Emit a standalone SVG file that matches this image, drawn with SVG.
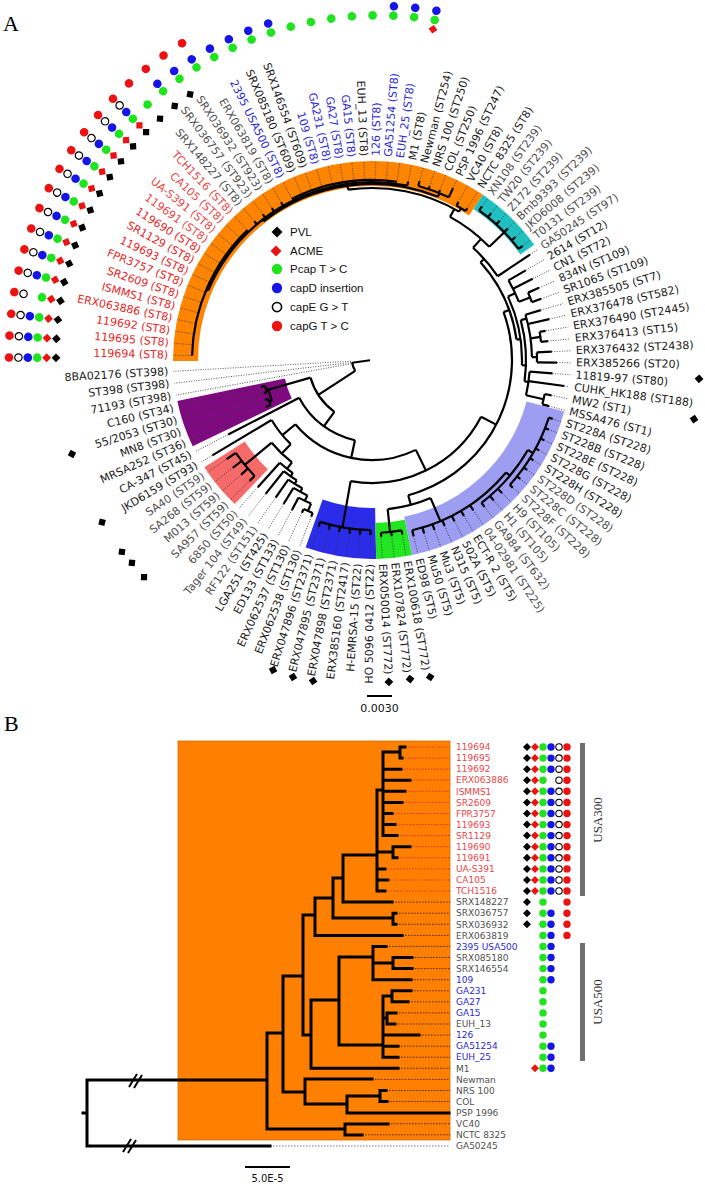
<svg xmlns="http://www.w3.org/2000/svg" width="705" height="1184" viewBox="0 0 705 1184">
<defs>
<style>
.t{fill:none;stroke:#000;stroke-width:2.2}
.d{stroke:#333;stroke-width:.8;stroke-dasharray:1 1.5}
.bd{fill:none}
.la{font-family:"DejaVu Sans",sans-serif;font-size:11px;dominant-baseline:central}
.L{text-anchor:end}
.lb{font-family:"DejaVu Sans",sans-serif;font-size:9px}
.lg{font-family:"Liberation Sans",Arial,sans-serif;font-size:11.5px;fill:#111}
.r{fill:#e62626}.r2{fill:#ec4545}.b{fill:#2a2ad2}.k{fill:#1a1a1a}.g{fill:#505050}
.bt{fill:none;stroke:#000;stroke-width:3;stroke-linecap:square}
.bdr{stroke:#e03030;stroke-width:1;stroke-dasharray:1.5 1.5}
.bdk{stroke:#4a2200;stroke-width:1;stroke-dasharray:1.5 1.5}
.pl{font-family:"Liberation Serif",serif;font-size:22px;fill:#000}
</style>
<path id="pvl" d="M0-4.4L4.4 0 0 4.4-4.4 0z" fill="#000"/>
<path id="acme" d="M0-4.4L4.4 0 0 4.4-4.4 0z" fill="#ee1111"/>
<circle id="pcap" r="4.3" fill="#1ee41e"/>
<circle id="capd" r="4.3" fill="#1515e6"/>
<circle id="cape" r="3.7" fill="#fff" stroke="#000" stroke-width="1.2"/>
<circle id="capg" r="4.3" fill="#ee1111"/>
<path id="bpvl" d="M0-4L4 0 0 4-4 0z" fill="#000"/>
<path id="bacme" d="M0-4L4 0 0 4-4 0z" fill="#ee1111"/>
<circle id="bpcap" r="3.7" fill="#1ee41e"/>
<circle id="bcapd" r="3.7" fill="#1515e6"/>
<circle id="bcape" r="3.2" fill="#fff" stroke="#000" stroke-width="1.1"/>
<circle id="bcapg" r="3.7" fill="#ee1111"/>
</defs>
<rect width="705" height="1184" fill="#fff"/>
<text class="pl" x="3" y="31">A</text>
<text class="pl" x="4" y="731">B</text>

<g id="panelA" transform="translate(372,360)">
<g id="bands">
<circle class="bd" r="186.5" stroke="#ff8400" stroke-width="25" pathLength="360" stroke-dasharray="124.2 400" transform="rotate(179.7)"/>
<circle class="bd" r="190.5" stroke="#20c0c0" stroke-width="17" pathLength="360" stroke-dasharray="20.7 400" transform="rotate(303.9)"/>
<circle class="bd" r="144" stroke="#7f0a80" stroke-width="110" pathLength="360" stroke-dasharray="13.8 400" transform="rotate(514.3)"/>
<circle class="bd" r="175" stroke="#f76a6a" stroke-width="48" pathLength="360" stroke-dasharray="13.8 400" transform="rotate(493.6)"/>
<circle class="bd" r="173.5" stroke="#2b2bea" stroke-width="51" pathLength="360" stroke-dasharray="20.7 400" transform="rotate(448.8)"/>
<circle class="bd" r="181" stroke="#22e622" stroke-width="36" pathLength="360" stroke-dasharray="10.4 400" transform="rotate(438.4)"/>
<circle class="bd" r="179.5" stroke="#9d9df2" stroke-width="39" pathLength="360" stroke-dasharray="63.4 400" transform="rotate(375)"/>
</g>
<g id="connectorsA">
<g id="dotsA">
<line class="d" x1="181" x2="199" transform="rotate(181.4)"/>
<line class="d" x1="181" x2="199" transform="rotate(184.85)"/>
<line class="d" x1="181" x2="199" transform="rotate(188.3)"/>
<line class="d" x1="181" x2="199" transform="rotate(191.75)"/>
<line class="d" x1="181" x2="199" transform="rotate(195.2)"/>
<line class="d" x1="181" x2="199" transform="rotate(198.65)"/>
<line class="d" x1="181" x2="199" transform="rotate(202.1)"/>
<line class="d" x1="181" x2="199" transform="rotate(205.55)"/>
<line class="d" x1="181" x2="199" transform="rotate(209)"/>
<line class="d" x1="181" x2="199" transform="rotate(212.45)"/>
<line class="d" x1="181" x2="199" transform="rotate(215.9)"/>
<line class="d" x1="181" x2="199" transform="rotate(219.35)"/>
<line class="d" x1="181" x2="199" transform="rotate(222.8)"/>
<line class="d" x1="181" x2="199" transform="rotate(226.25)"/>
<line class="d" x1="182" x2="199" transform="rotate(229.7)"/>
<line class="d" x1="182" x2="199" transform="rotate(233.15)"/>
<line class="d" x1="182" x2="199" transform="rotate(236.6)"/>
<line class="d" x1="182" x2="199" transform="rotate(240.05)"/>
<line class="d" x1="182" x2="199" transform="rotate(243.5)"/>
<line class="d" x1="182" x2="199" transform="rotate(246.95)"/>
<line class="d" x1="182" x2="199" transform="rotate(250.4)"/>
<line class="d" x1="182" x2="199" transform="rotate(253.85)"/>
<line class="d" x1="182" x2="199" transform="rotate(257.3)"/>
<line class="d" x1="182" x2="199" transform="rotate(260.75)"/>
<line class="d" x1="182" x2="199" transform="rotate(264.2)"/>
<line class="d" x1="182" x2="199" transform="rotate(267.65)"/>
<line class="d" x1="182" x2="199" transform="rotate(271.1)"/>
<line class="d" x1="182" x2="199" transform="rotate(274.55)"/>
<line class="d" x1="182" x2="199" transform="rotate(278)"/>
<line class="d" x1="182" x2="199" transform="rotate(281.45)"/>
<line class="d" x1="185" x2="199" transform="rotate(284.9)"/>
<line class="d" x1="183" x2="199" transform="rotate(288.35)"/>
<line class="d" x1="183" x2="199" transform="rotate(291.8)"/>
<line class="d" x1="190" x2="199" transform="rotate(295.25)"/>
<line class="d" x1="180" x2="199" transform="rotate(298.7)"/>
<line class="d" x1="179" x2="199" transform="rotate(302.15)"/>
<line class="d" x1="189" x2="199" transform="rotate(305.6)"/>
<line class="d" x1="189" x2="199" transform="rotate(309.05)"/>
<line class="d" x1="189" x2="199" transform="rotate(312.5)"/>
<line class="d" x1="189" x2="199" transform="rotate(315.95)"/>
<line class="d" x1="189" x2="199" transform="rotate(319.4)"/>
<line class="d" x1="189" x2="199" transform="rotate(322.85)"/>
<line class="d" x1="190" x2="199" transform="rotate(326.3)"/>
<line class="d" x1="178" x2="199" transform="rotate(329.75)"/>
<line class="d" x1="180" x2="199" transform="rotate(333.2)"/>
<line class="d" x1="182" x2="199" transform="rotate(336.65)"/>
<line class="d" x1="180" x2="199" transform="rotate(340.1)"/>
<line class="d" x1="176" x2="199" transform="rotate(343.55)"/>
<line class="d" x1="182" x2="199" transform="rotate(347)"/>
<line class="d" x1="176" x2="199" transform="rotate(350.45)"/>
<line class="d" x1="177" x2="199" transform="rotate(353.9)"/>
<line class="d" x1="180" x2="199" transform="rotate(357.35)"/>
<line class="d" x1="185" x2="199" transform="rotate(360.8)"/>
<line class="d" x1="181" x2="199" transform="rotate(364.25)"/>
<line class="d" x1="194" x2="199" transform="rotate(367.7)"/>
<line class="d" x1="183" x2="199" transform="rotate(371.15)"/>
<line class="d" x1="183" x2="199" transform="rotate(374.6)"/>
<line class="d" x1="190" x2="199" transform="rotate(378.05)"/>
<line class="d" x1="190" x2="199" transform="rotate(381.5)"/>
<line class="d" x1="190" x2="199" transform="rotate(384.95)"/>
<line class="d" x1="190" x2="199" transform="rotate(388.4)"/>
<line class="d" x1="190" x2="199" transform="rotate(391.85)"/>
<line class="d" x1="190" x2="199" transform="rotate(395.3)"/>
<line class="d" x1="190" x2="199" transform="rotate(398.75)"/>
<line class="d" x1="190" x2="199" transform="rotate(402.2)"/>
<line class="d" x1="186" x2="199" transform="rotate(405.65)"/>
<line class="d" x1="186" x2="199" transform="rotate(409.1)"/>
<line class="d" x1="185" x2="199" transform="rotate(412.55)"/>
<line class="d" x1="181" x2="199" transform="rotate(416)"/>
<line class="d" x1="181" x2="199" transform="rotate(419.45)"/>
<line class="d" x1="181" x2="199" transform="rotate(422.9)"/>
<line class="d" x1="181" x2="199" transform="rotate(426.35)"/>
<line class="d" x1="181" x2="199" transform="rotate(429.8)"/>
<line class="d" x1="181" x2="199" transform="rotate(433.25)"/>
<line class="d" x1="181" x2="199" transform="rotate(436.7)"/>
<line class="d" x1="177" x2="199" transform="rotate(440.15)"/>
<line class="d" x1="177" x2="199" transform="rotate(443.6)"/>
<line class="d" x1="177" x2="199" transform="rotate(447.05)"/>
<line class="d" x1="175" x2="199" transform="rotate(450.5)"/>
<line class="d" x1="175" x2="199" transform="rotate(453.95)"/>
<line class="d" x1="175" x2="199" transform="rotate(457.4)"/>
<line class="d" x1="175" x2="199" transform="rotate(460.85)"/>
<line class="d" x1="175" x2="199" transform="rotate(464.3)"/>
<line class="d" x1="175" x2="199" transform="rotate(467.75)"/>
<line class="d" x1="168" x2="199" transform="rotate(471.2)"/>
<line class="d" x1="168" x2="199" transform="rotate(474.65)"/>
<line class="d" x1="170" x2="199" transform="rotate(478.1)"/>
<line class="d" x1="169" x2="199" transform="rotate(481.55)"/>
<line class="d" x1="168" x2="199" transform="rotate(485)"/>
<line class="d" x1="171" x2="199" transform="rotate(488.45)"/>
<line class="d" x1="171" x2="199" transform="rotate(491.9)"/>
<line class="d" x1="172" x2="199" transform="rotate(495.35)"/>
<line class="d" x1="174" x2="199" transform="rotate(498.8)"/>
<line class="d" x1="176" x2="199" transform="rotate(502.25)"/>
<line class="d" x1="176" x2="199" transform="rotate(505.7)"/>
<line class="d" x1="186" x2="199" transform="rotate(509.15)"/>
<line class="d" x1="162" x2="199" transform="rotate(512.6)"/>
<line class="d" x1="116" x2="199" transform="rotate(516.05)"/>
<line class="d" x1="114" x2="199" transform="rotate(519.5)"/>
<line class="d" x1="113" x2="199" transform="rotate(522.95)"/>
<line class="d" x1="114" x2="199" transform="rotate(526.4)"/>
<line class="d" x1="21" x2="199" transform="rotate(529.85)"/>
<line class="d" x1="21" x2="199" transform="rotate(533.3)"/>
<line class="d" x1="21" x2="199" transform="rotate(536.75)"/>
</g>
<g id="arcsA">
<circle class="t" r="20" pathLength="360" stroke-dasharray="26.3 400" transform="rotate(507)"/>
<circle class="t" r="64" pathLength="360" stroke-dasharray="38 400" transform="rotate(486)"/>
<circle class="t" r="82" pathLength="360" stroke-dasharray="50.6 400" transform="rotate(462)"/>
<circle class="t" r="100" pathLength="360" stroke-dasharray="76 400" transform="rotate(424)"/>
<circle class="t" r="117" pathLength="360" stroke-dasharray="15.15 400" transform="rotate(494)"/>
<circle class="t" r="130" pathLength="360" stroke-dasharray="12.5 400" transform="rotate(488)"/>
<circle class="t" r="138" pathLength="360" stroke-dasharray="6.9 400" transform="rotate(485)"/>
<circle class="t" r="142" pathLength="360" stroke-dasharray="6.45 400" transform="rotate(482)"/>
<circle class="t" r="146" pathLength="360" stroke-dasharray="6.5 400" transform="rotate(478.5)"/>
<circle class="t" r="150" pathLength="360" stroke-dasharray="6.05 400" transform="rotate(475.5)"/>
<circle class="t" r="156" pathLength="360" stroke-dasharray="5.1 400" transform="rotate(473)"/>
<circle class="t" r="164" pathLength="360" stroke-dasharray="3.45 400" transform="rotate(471.2)"/>
<circle class="t" r="165" pathLength="360" stroke-dasharray="10.35 400" transform="rotate(495.35)"/>
<circle class="t" r="108" pathLength="360" stroke-dasharray="6.9 400" transform="rotate(517.8)"/>
<circle class="t" r="110" pathLength="360" stroke-dasharray="3.45 400" transform="rotate(522.95)"/>
<circle class="t" r="111" pathLength="360" stroke-dasharray="3.45 400" transform="rotate(516.05)"/>
<circle class="t" r="123" pathLength="360" stroke-dasharray="72.5 400" transform="rotate(387.5)"/>
<circle class="t" r="170" pathLength="360" stroke-dasharray="17.25 400" transform="rotate(450.5)"/>
<circle class="t" r="140" pathLength="360" stroke-dasharray="95 400" transform="rotate(340)"/>
<circle class="t" r="150" pathLength="360" stroke-dasharray="17 400" transform="rotate(427)"/>
<circle class="t" r="173" pathLength="360" stroke-dasharray="6.9 400" transform="rotate(440.15)"/>
<circle class="t" r="175" pathLength="360" stroke-dasharray="36.7 400" transform="rotate(400)"/>
<circle class="t" r="180" pathLength="360" stroke-dasharray="22.55 400" transform="rotate(390)"/>
<circle class="t" r="186" pathLength="360" stroke-dasharray="24.15 400" transform="rotate(378.05)"/>
<circle class="t" r="146" pathLength="360" stroke-dasharray="34 400" transform="rotate(318)"/>
<circle class="t" r="150" pathLength="360" stroke-dasharray="27 400" transform="rotate(335)"/>
<circle class="t" r="158" pathLength="360" stroke-dasharray="8.65 400" transform="rotate(329.75)"/>
<circle class="t" r="170" pathLength="360" stroke-dasharray="3.45 400" transform="rotate(336.65)"/>
<circle class="t" r="154" pathLength="360" stroke-dasharray="23 400" transform="rotate(345)"/>
<circle class="t" r="160" pathLength="360" stroke-dasharray="15.45 400" transform="rotate(343.55)"/>
<circle class="t" r="170" pathLength="360" stroke-dasharray="3.45 400" transform="rotate(350.45)"/>
<circle class="t" r="165" pathLength="360" stroke-dasharray="3.45 400" transform="rotate(357.35)"/>
<circle class="t" r="158" pathLength="360" stroke-dasharray="8.65 400" transform="rotate(364.25)"/>
<circle class="t" r="176" pathLength="360" stroke-dasharray="3.45 400" transform="rotate(371.15)"/>
<circle class="t" r="151" pathLength="360" stroke-dasharray="14.3 400" transform="rotate(312)"/>
<circle class="t" r="163" pathLength="360" stroke-dasharray="17.4 400" transform="rotate(298.6)"/>
<circle class="t" r="184" pathLength="360" stroke-dasharray="17.25 400" transform="rotate(305.6)"/>
<circle class="t" r="172" pathLength="360" stroke-dasharray="38.4 400" transform="rotate(262)"/>
<circle class="t" r="176" pathLength="360" stroke-dasharray="3.45 400" transform="rotate(298.7)"/>
<circle class="t" r="176" pathLength="360" stroke-dasharray="60 400" transform="rotate(232)"/>
<circle class="t" r="180" pathLength="360" stroke-dasharray="10.35 400" transform="rotate(284.9)"/>
<circle class="t" r="178" pathLength="360" stroke-dasharray="78.45 400" transform="rotate(203)"/>
<circle class="t" r="180" pathLength="360" stroke-dasharray="44.85 400" transform="rotate(181.4)"/>
<circle class="t" r="180" pathLength="360" stroke-dasharray="34.5 400" transform="rotate(243.5)"/>
</g>
<g id="radialsA">
<line class="t" x1="2" x2="20" transform="rotate(172)"/>
<line class="t" x1="20" x2="64" transform="rotate(507)"/>
<line class="t" x1="64" x2="82" transform="rotate(486)"/>
<line class="t" x1="64" x2="108" transform="rotate(524)"/>
<line class="t" x1="108" x2="110" transform="rotate(524.7)"/>
<line class="t" x1="110" x2="113" transform="rotate(522.95)"/>
<line class="t" x1="110" x2="114" transform="rotate(526.4)"/>
<line class="t" x1="108" x2="111" transform="rotate(517.8)"/>
<line class="t" x1="111" x2="116" transform="rotate(516.05)"/>
<line class="t" x1="111" x2="114" transform="rotate(519.5)"/>
<line class="t" x1="82" x2="162" transform="rotate(512.6)"/>
<line class="t" x1="82" x2="100" transform="rotate(462)"/>
<line class="t" x1="100" x2="117" transform="rotate(500)"/>
<line class="t" x1="117" x2="186" transform="rotate(509.15)"/>
<line class="t" x1="117" x2="130" transform="rotate(494)"/>
<line class="t" x1="130" x2="165" transform="rotate(500.5)"/>
<line class="t" x1="165" x2="172" transform="rotate(495.35)"/>
<line class="t" x1="165" x2="174" transform="rotate(498.8)"/>
<line class="t" x1="165" x2="176" transform="rotate(502.25)"/>
<line class="t" x1="165" x2="176" transform="rotate(505.7)"/>
<line class="t" x1="130" x2="138" transform="rotate(488)"/>
<line class="t" x1="138" x2="171" transform="rotate(491.9)"/>
<line class="t" x1="138" x2="142" transform="rotate(485)"/>
<line class="t" x1="142" x2="171" transform="rotate(488.45)"/>
<line class="t" x1="142" x2="146" transform="rotate(482)"/>
<line class="t" x1="146" x2="168" transform="rotate(485)"/>
<line class="t" x1="146" x2="150" transform="rotate(478.5)"/>
<line class="t" x1="150" x2="169" transform="rotate(481.55)"/>
<line class="t" x1="150" x2="156" transform="rotate(475.5)"/>
<line class="t" x1="156" x2="170" transform="rotate(478.1)"/>
<line class="t" x1="156" x2="164" transform="rotate(473)"/>
<line class="t" x1="164" x2="168" transform="rotate(471.2)"/>
<line class="t" x1="164" x2="168" transform="rotate(474.65)"/>
<line class="t" x1="100" x2="123" transform="rotate(424)"/>
<line class="t" x1="123" x2="170" transform="rotate(460)"/>
<line class="t" x1="170" x2="175" transform="rotate(450.5)"/>
<line class="t" x1="170" x2="175" transform="rotate(453.95)"/>
<line class="t" x1="170" x2="175" transform="rotate(457.4)"/>
<line class="t" x1="170" x2="175" transform="rotate(460.85)"/>
<line class="t" x1="170" x2="175" transform="rotate(464.3)"/>
<line class="t" x1="170" x2="175" transform="rotate(467.75)"/>
<line class="t" x1="123" x2="140" transform="rotate(387.5)"/>
<line class="t" x1="140" x2="150" transform="rotate(435)"/>
<line class="t" x1="150" x2="173" transform="rotate(444)"/>
<line class="t" x1="173" x2="177" transform="rotate(440.15)"/>
<line class="t" x1="173" x2="177" transform="rotate(443.6)"/>
<line class="t" x1="173" x2="177" transform="rotate(447.05)"/>
<line class="t" x1="150" x2="175" transform="rotate(427)"/>
<line class="t" x1="175" x2="181" transform="rotate(416)"/>
<line class="t" x1="175" x2="181" transform="rotate(419.45)"/>
<line class="t" x1="175" x2="181" transform="rotate(422.9)"/>
<line class="t" x1="175" x2="181" transform="rotate(426.35)"/>
<line class="t" x1="175" x2="181" transform="rotate(429.8)"/>
<line class="t" x1="175" x2="181" transform="rotate(433.25)"/>
<line class="t" x1="175" x2="181" transform="rotate(436.7)"/>
<line class="t" x1="175" x2="180" transform="rotate(400)"/>
<line class="t" x1="180" x2="186" transform="rotate(405.65)"/>
<line class="t" x1="180" x2="186" transform="rotate(409.1)"/>
<line class="t" x1="180" x2="185" transform="rotate(412.55)"/>
<line class="t" x1="180" x2="186" transform="rotate(390)"/>
<line class="t" x1="186" x2="190" transform="rotate(378.05)"/>
<line class="t" x1="186" x2="190" transform="rotate(381.5)"/>
<line class="t" x1="186" x2="190" transform="rotate(384.95)"/>
<line class="t" x1="186" x2="190" transform="rotate(388.4)"/>
<line class="t" x1="186" x2="190" transform="rotate(391.85)"/>
<line class="t" x1="186" x2="190" transform="rotate(395.3)"/>
<line class="t" x1="186" x2="190" transform="rotate(398.75)"/>
<line class="t" x1="186" x2="190" transform="rotate(402.2)"/>
<line class="t" x1="140" x2="146" transform="rotate(340)"/>
<line class="t" x1="146" x2="150" transform="rotate(352)"/>
<line class="t" x1="150" x2="158" transform="rotate(335)"/>
<line class="t" x1="158" x2="178" transform="rotate(329.75)"/>
<line class="t" x1="158" x2="180" transform="rotate(333.2)"/>
<line class="t" x1="158" x2="170" transform="rotate(338.4)"/>
<line class="t" x1="170" x2="182" transform="rotate(336.65)"/>
<line class="t" x1="170" x2="180" transform="rotate(340.1)"/>
<line class="t" x1="150" x2="154" transform="rotate(362)"/>
<line class="t" x1="154" x2="160" transform="rotate(345)"/>
<line class="t" x1="160" x2="176" transform="rotate(343.55)"/>
<line class="t" x1="160" x2="182" transform="rotate(347)"/>
<line class="t" x1="160" x2="170" transform="rotate(352.2)"/>
<line class="t" x1="170" x2="176" transform="rotate(350.45)"/>
<line class="t" x1="170" x2="177" transform="rotate(353.9)"/>
<line class="t" x1="160" x2="165" transform="rotate(359)"/>
<line class="t" x1="165" x2="180" transform="rotate(357.35)"/>
<line class="t" x1="165" x2="185" transform="rotate(360.8)"/>
<line class="t" x1="154" x2="158" transform="rotate(368)"/>
<line class="t" x1="158" x2="181" transform="rotate(364.25)"/>
<line class="t" x1="158" x2="194" transform="rotate(367.7)"/>
<line class="t" x1="158" x2="176" transform="rotate(372.9)"/>
<line class="t" x1="176" x2="183" transform="rotate(371.15)"/>
<line class="t" x1="176" x2="183" transform="rotate(374.6)"/>
<line class="t" x1="146" x2="151" transform="rotate(318)"/>
<line class="t" x1="151" x2="190" transform="rotate(326.3)"/>
<line class="t" x1="151" x2="163" transform="rotate(312)"/>
<line class="t" x1="163" x2="184" transform="rotate(316)"/>
<line class="t" x1="184" x2="189" transform="rotate(305.6)"/>
<line class="t" x1="184" x2="189" transform="rotate(309.05)"/>
<line class="t" x1="184" x2="189" transform="rotate(312.5)"/>
<line class="t" x1="184" x2="189" transform="rotate(315.95)"/>
<line class="t" x1="184" x2="189" transform="rotate(319.4)"/>
<line class="t" x1="184" x2="189" transform="rotate(322.85)"/>
<line class="t" x1="163" x2="172" transform="rotate(298.6)"/>
<line class="t" x1="172" x2="176" transform="rotate(300.4)"/>
<line class="t" x1="176" x2="180" transform="rotate(298.7)"/>
<line class="t" x1="176" x2="179" transform="rotate(302.15)"/>
<line class="t" x1="172" x2="176" transform="rotate(262)"/>
<line class="t" x1="176" x2="180" transform="rotate(292)"/>
<line class="t" x1="180" x2="185" transform="rotate(284.9)"/>
<line class="t" x1="180" x2="183" transform="rotate(288.35)"/>
<line class="t" x1="180" x2="183" transform="rotate(291.8)"/>
<line class="t" x1="180" x2="190" transform="rotate(295.25)"/>
<line class="t" x1="176" x2="178" transform="rotate(232)"/>
<line class="t" x1="178" x2="180" transform="rotate(203)"/>
<line class="t" x1="178" x2="182" transform="rotate(229.7)"/>
<line class="t" x1="178" x2="182" transform="rotate(233.15)"/>
<line class="t" x1="178" x2="182" transform="rotate(236.6)"/>
<line class="t" x1="178" x2="182" transform="rotate(240.05)"/>
<line class="t" x1="178" x2="180" transform="rotate(260)"/>
<line class="t" x1="178" x2="182" transform="rotate(281.45)"/>
</g>
</g>

<g id="labelsA">
<g id="a0"><text class="la L r" transform="rotate(1.4) translate(-204)">119694 (ST8)</text></g>
<g id="a1"><text class="la L r" transform="rotate(4.85) translate(-204)">119695 (ST8)</text></g>
<g id="a2"><text class="la L r" transform="rotate(8.3) translate(-204)">119692 (ST8)</text></g>
<g id="a3"><text class="la L r" transform="rotate(11.75) translate(-204)">ERX063886 (ST8)</text></g>
<g id="a4"><text class="la L r" transform="rotate(15.2) translate(-204)">ISMMS1 (ST8)</text></g>
<g id="a5"><text class="la L r" transform="rotate(18.65) translate(-204)">SR2609 (ST8)</text></g>
<g id="a6"><text class="la L r" transform="rotate(22.1) translate(-204)">FPR3757 (ST8)</text></g>
<g id="a7"><text class="la L r" transform="rotate(25.55) translate(-204)">119693 (ST8)</text></g>
<g id="a8"><text class="la L r" transform="rotate(29) translate(-204)">SR1129 (ST8)</text></g>
<g id="a9"><text class="la L r" transform="rotate(32.45) translate(-204)">119690 (ST8)</text></g>
<g id="a10"><text class="la L r2" transform="rotate(35.9) translate(-204)">119691 (ST8)</text></g>
<g id="a11"><text class="la L r2" transform="rotate(39.35) translate(-204)">UA-S391 (ST8)</text></g>
<g id="a12"><text class="la L r2" transform="rotate(42.8) translate(-204)">CA105 (ST8)</text></g>
<g id="a13"><text class="la L r2" transform="rotate(46.25) translate(-204)">TCH1516 (ST8)</text></g>
<g id="a14"><text class="la L g" transform="rotate(49.7) translate(-204)">SRX148227 (ST8)</text></g>
<g id="a15"><text class="la L g" transform="rotate(53.15) translate(-204)">SRX036757 (ST923)</text></g>
<g id="a16"><text class="la L g" transform="rotate(56.6) translate(-204)">SRX036932 (ST923)</text></g>
<g id="a17"><text class="la L g" transform="rotate(60.05) translate(-204)">ERX063819 (ST8)</text></g>
<g id="a18"><text class="la L b" transform="rotate(63.5) translate(-204)">2395 USA500 (ST8)</text></g>
<g id="a19"><text class="la L k" transform="rotate(66.95) translate(-204)">SRX085180 (ST609)</text></g>
<g id="a20"><text class="la L k" transform="rotate(70.4) translate(-204)">SRX146554 (ST609)</text></g>
<g id="a21"><text class="la L b" transform="rotate(73.85) translate(-204)">109 (ST8)</text></g>
<g id="a22"><text class="la L b" transform="rotate(77.3) translate(-204)">GA231 (ST8)</text></g>
<g id="a23"><text class="la L b" transform="rotate(80.75) translate(-204)">GA27 (ST8)</text></g>
<g id="a24"><text class="la L b" transform="rotate(84.2) translate(-204)">GA15 (ST8)</text></g>
<g id="a25"><text class="la L k" transform="rotate(87.65) translate(-204)">EUH_13 (ST8)</text></g>
<g id="a26"><text class="la b" transform="rotate(271.1) translate(204)">126 (ST8)</text></g>
<g id="a27"><text class="la b" transform="rotate(274.55) translate(204)">GA51254 (ST8)</text></g>
<g id="a28"><text class="la b" transform="rotate(278) translate(204)">EUH_25 (ST8)</text></g>
<g id="a29"><text class="la k" transform="rotate(281.45) translate(204)">M1 (ST8)</text></g>
<g id="a30"><text class="la k" transform="rotate(284.9) translate(204)">Newman (ST254)</text></g>
<g id="a31"><text class="la k" transform="rotate(288.35) translate(204)">NRS 100 (ST250)</text></g>
<g id="a32"><text class="la k" transform="rotate(291.8) translate(204)">COL (ST250)</text></g>
<g id="a33"><text class="la k" transform="rotate(295.25) translate(204)">PSP 1996 (ST247)</text></g>
<g id="a34"><text class="la k" transform="rotate(298.7) translate(204)">VC40 (ST8)</text></g>
<g id="a35"><text class="la k" transform="rotate(302.15) translate(204)">NCTC 8325 (ST8)</text></g>
<g id="a36"><text class="la g" transform="rotate(305.6) translate(204)">XN108 (ST239)</text></g>
<g id="a37"><text class="la g" transform="rotate(309.05) translate(204)">TW20 (ST239)</text></g>
<g id="a38"><text class="la g" transform="rotate(312.5) translate(204)">Z172 (ST239)</text></g>
<g id="a39"><text class="la g" transform="rotate(315.95) translate(204)">Bmb9393 (ST239)</text></g>
<g id="a40"><text class="la g" transform="rotate(319.4) translate(204)">JKD6008 (ST239)</text></g>
<g id="a41"><text class="la g" transform="rotate(322.85) translate(204)">T0131 (ST239)</text></g>
<g id="a42"><text class="la g" transform="rotate(326.3) translate(204)">GA50245 (ST97)</text></g>
<g id="a43"><text class="la k" transform="rotate(329.75) translate(204)">2614 (ST12)</text></g>
<g id="a44"><text class="la k" transform="rotate(333.2) translate(204)">CN1 (ST72)</text></g>
<g id="a45"><text class="la k" transform="rotate(336.65) translate(204)">834N (ST109)</text></g>
<g id="a46"><text class="la k" transform="rotate(340.1) translate(204)">SR1065 (ST109)</text></g>
<g id="a47"><text class="la k" transform="rotate(343.55) translate(204)">ERX385505 (ST7)</text></g>
<g id="a48"><text class="la k" transform="rotate(347) translate(204)">ERX376478 (ST582)</text></g>
<g id="a49"><text class="la k" transform="rotate(350.45) translate(204)">ERX376490 (ST2445)</text></g>
<g id="a50"><text class="la k" transform="rotate(353.9) translate(204)">ERX376413 (ST15)</text></g>
<g id="a51"><text class="la k" transform="rotate(357.35) translate(204)">ERX376432 (ST2438)</text></g>
<g id="a52"><text class="la k" transform="rotate(0.8) translate(204)">ERX385266 (ST20)</text></g>
<g id="a53"><text class="la k" transform="rotate(4.25) translate(204)">11819-97 (ST80)</text></g>
<g id="a54"><text class="la k" transform="rotate(7.7) translate(204)">CUHK_HK188 (ST188)</text></g>
<g id="a55"><text class="la k" transform="rotate(11.15) translate(204)">MW2 (ST1)</text></g>
<g id="a56"><text class="la k" transform="rotate(14.6) translate(204)">MSSA476 (ST1)</text></g>
<g id="a57"><text class="la k" transform="rotate(18.05) translate(204)">ST228A (ST228)</text></g>
<g id="a58"><text class="la k" transform="rotate(21.5) translate(204)">ST228B (ST228)</text></g>
<g id="a59"><text class="la k" transform="rotate(24.95) translate(204)">ST228E (ST228)</text></g>
<g id="a60"><text class="la k" transform="rotate(28.4) translate(204)">ST228G (ST228)</text></g>
<g id="a61"><text class="la k" transform="rotate(31.85) translate(204)">ST228H (ST228)</text></g>
<g id="a62"><text class="la g" transform="rotate(35.3) translate(204)">ST228D (ST228)</text></g>
<g id="a63"><text class="la g" transform="rotate(38.75) translate(204)">ST228C (ST228)</text></g>
<g id="a64"><text class="la g" transform="rotate(42.2) translate(204)">ST228F (ST228)</text></g>
<g id="a65"><text class="la g" transform="rotate(45.65) translate(204)">H9 (ST105)</text></g>
<g id="a66"><text class="la g" transform="rotate(49.1) translate(204)">H1 (ST105)</text></g>
<g id="a67"><text class="la g" transform="rotate(52.55) translate(204)">GA984 (ST632)</text></g>
<g id="a68"><text class="la g" transform="rotate(56) translate(204)">04-02981 (ST225)</text></g>
<g id="a69"><text class="la k" transform="rotate(59.45) translate(204)">ECT-R 2 (ST5)</text></g>
<g id="a70"><text class="la k" transform="rotate(62.9) translate(204)">502A (ST5)</text></g>
<g id="a71"><text class="la k" transform="rotate(66.35) translate(204)">N315 (ST5)</text></g>
<g id="a72"><text class="la k" transform="rotate(69.8) translate(204)">Mu3 (ST5)</text></g>
<g id="a73"><text class="la k" transform="rotate(73.25) translate(204)">Mu50 (ST5)</text></g>
<g id="a74"><text class="la k" transform="rotate(76.7) translate(204)">ED98 (ST5)</text></g>
<g id="a75"><text class="la k" transform="rotate(80.15) translate(204)">ERX100618 (ST772)</text></g>
<g id="a76"><text class="la k" transform="rotate(83.6) translate(204)">ERX107824 (ST772)</text></g>
<g id="a77"><text class="la k" transform="rotate(87.05) translate(204)">ERX050014 (ST772)</text></g>
<g id="a78"><text class="la L k" transform="rotate(270.5) translate(-204)">HO 5096 0412 (ST22)</text></g>
<g id="a79"><text class="la L k" transform="rotate(273.95) translate(-204)">H-EMRSA-15 (ST22)</text></g>
<g id="a80"><text class="la L k" transform="rotate(277.4) translate(-204)">ERX385160 (ST2417)</text></g>
<g id="a81"><text class="la L k" transform="rotate(280.85) translate(-204)">ERX047898 (ST2371)</text></g>
<g id="a82"><text class="la L k" transform="rotate(284.3) translate(-204)">ERX047895 (ST2371)</text></g>
<g id="a83"><text class="la L k" transform="rotate(287.75) translate(-204)">ERX047896 (ST2371)</text></g>
<g id="a84"><text class="la L k" transform="rotate(291.2) translate(-204)">ERX062538 (ST130)</text></g>
<g id="a85"><text class="la L k" transform="rotate(294.65) translate(-204)">ERX062537 (ST130)</text></g>
<g id="a86"><text class="la L k" transform="rotate(298.1) translate(-204)">ED133 (ST133)</text></g>
<g id="a87"><text class="la L k" transform="rotate(301.55) translate(-204)">LGA251 (ST425)</text></g>
<g id="a88"><text class="la L g" transform="rotate(305) translate(-204)">RF122 (ST151)</text></g>
<g id="a89"><text class="la L g" transform="rotate(308.45) translate(-204)">Tager 104 (ST49)</text></g>
<g id="a90"><text class="la L g" transform="rotate(311.9) translate(-204)">6850 (ST50)</text></g>
<g id="a91"><text class="la L g" transform="rotate(315.35) translate(-204)">SA957 (ST59)</text></g>
<g id="a92"><text class="la L g" transform="rotate(318.8) translate(-204)">M013 (ST59)</text></g>
<g id="a93"><text class="la L g" transform="rotate(322.25) translate(-204)">SA268 (ST59)</text></g>
<g id="a94"><text class="la L g" transform="rotate(325.7) translate(-204)">SA40 (ST59)</text></g>
<g id="a95"><text class="la L k" transform="rotate(329.15) translate(-204)">JKD6159 (ST93)</text></g>
<g id="a96"><text class="la L k" transform="rotate(332.6) translate(-204)">CA-347 (ST45)</text></g>
<g id="a97"><text class="la L k" transform="rotate(336.05) translate(-204)">MRSA252 (ST36)</text></g>
<g id="a98"><text class="la L k" transform="rotate(339.5) translate(-204)">MN8 (ST30)</text></g>
<g id="a99"><text class="la L k" transform="rotate(342.95) translate(-204)">55/2053 (ST30)</text></g>
<g id="a100"><text class="la L k" transform="rotate(346.4) translate(-204)">C160 (ST34)</text></g>
<g id="a101"><text class="la L k" transform="rotate(349.85) translate(-204)">71193 (ST398)</text></g>
<g id="a102"><text class="la L k" transform="rotate(353.3) translate(-204)">ST398 (ST398)</text></g>
<g id="a103"><text class="la L k" transform="rotate(356.75) translate(-204)">8BA02176 (ST398)</text></g>
</g>

<g id="markersA">
<g transform="rotate(180.4) translate(316,0)"><use href="#pvl"/><use href="#acme" x="9.4"/><use href="#pcap" x="18.8"/><use href="#capd" x="28.2"/><use href="#cape" x="37.6"/><use href="#capg" x="47"/></g>
<g transform="rotate(183.85) translate(316.3,0)"><use href="#pvl"/><use href="#acme" x="9.4"/><use href="#pcap" x="18.8"/><use href="#capd" x="28.2"/><use href="#cape" x="37.6"/><use href="#capg" x="47"/></g>
<g transform="rotate(187.3) translate(316.7,0)"><use href="#pvl"/><use href="#acme" x="9.4"/><use href="#pcap" x="18.8"/><use href="#capd" x="28.2"/><use href="#cape" x="37.6"/><use href="#capg" x="47"/></g>
<g transform="rotate(190.75) translate(317.1,0)"><use href="#pvl"/><use href="#acme" x="9.4"/><use href="#pcap" x="18.8"/><use href="#cape" x="37.6"/><use href="#capg" x="47"/></g>
<g transform="rotate(194.2) translate(317.5,0)"><use href="#pvl"/><use href="#acme" x="9.4"/><use href="#pcap" x="18.8"/><use href="#capd" x="28.2"/><use href="#cape" x="37.6"/><use href="#capg" x="47"/></g>
<g transform="rotate(197.65) translate(317.8,0)"><use href="#pvl"/><use href="#acme" x="9.4"/><use href="#pcap" x="18.8"/><use href="#capd" x="28.2"/><use href="#cape" x="37.6"/><use href="#capg" x="47"/></g>
<g transform="rotate(201.1) translate(318.2,0)"><use href="#pvl"/><use href="#acme" x="9.4"/><use href="#pcap" x="18.8"/><use href="#capd" x="28.2"/><use href="#cape" x="37.6"/><use href="#capg" x="47"/></g>
<g transform="rotate(204.55) translate(318.6,0)"><use href="#pvl"/><use href="#acme" x="9.4"/><use href="#pcap" x="18.8"/><use href="#capd" x="28.2"/><use href="#cape" x="37.6"/><use href="#capg" x="47"/></g>
<g transform="rotate(208) translate(319,0)"><use href="#pvl"/><use href="#acme" x="9.4"/><use href="#pcap" x="18.8"/><use href="#capd" x="28.2"/><use href="#cape" x="37.6"/><use href="#capg" x="47"/></g>
<g transform="rotate(211.45) translate(319.3,0)"><use href="#pvl"/><use href="#acme" x="9.4"/><use href="#pcap" x="18.8"/><use href="#capd" x="28.2"/><use href="#cape" x="37.6"/><use href="#capg" x="47"/></g>
<g transform="rotate(214.9) translate(319.7,0)"><use href="#pvl"/><use href="#acme" x="9.4"/><use href="#pcap" x="18.8"/><use href="#capd" x="28.2"/><use href="#cape" x="37.6"/><use href="#capg" x="47"/></g>
<g transform="rotate(218.35) translate(320.1,0)"><use href="#pvl"/><use href="#acme" x="9.4"/><use href="#pcap" x="18.8"/><use href="#capd" x="28.2"/><use href="#cape" x="37.6"/><use href="#capg" x="47"/></g>
<g transform="rotate(221.8) translate(320.5,0)"><use href="#pvl"/><use href="#acme" x="9.4"/><use href="#pcap" x="18.8"/><use href="#capd" x="28.2"/><use href="#cape" x="37.6"/><use href="#capg" x="47"/></g>
<g transform="rotate(225.25) translate(320.9,0)"><use href="#pvl"/><use href="#acme" x="9.4"/><use href="#pcap" x="18.8"/><use href="#capd" x="28.2"/><use href="#cape" x="37.6"/><use href="#capg" x="47"/></g>
<g transform="rotate(228.7) translate(321.2,0)"><use href="#pvl"/><use href="#pcap" x="18.8"/><use href="#capg" x="47"/></g>
<g transform="rotate(232.15) translate(321.6,0)"><use href="#pvl"/><use href="#pcap" x="18.8"/><use href="#capd" x="28.2"/><use href="#capg" x="47"/></g>
<g transform="rotate(235.6) translate(322,0)"><use href="#pvl"/><use href="#pcap" x="18.8"/><use href="#capd" x="28.2"/><use href="#capg" x="47"/></g>
<g transform="rotate(239.05) translate(322.4,0)"><use href="#pcap" x="18.8"/><use href="#capd" x="28.2"/><use href="#capg" x="47"/></g>
<g transform="rotate(242.5) translate(322.8,0)"><use href="#pcap" x="18.8"/><use href="#capd" x="28.2"/></g>
<g transform="rotate(245.95) translate(323.1,0)"><use href="#pcap" x="18.8"/><use href="#capd" x="28.2"/></g>
<g transform="rotate(249.4) translate(323.5,0)"><use href="#pcap" x="18.8"/><use href="#capd" x="28.2"/></g>
<g transform="rotate(252.85) translate(323.9,0)"><use href="#pcap" x="18.8"/><use href="#capd" x="28.2"/></g>
<g transform="rotate(256.3) translate(324.3,0)"><use href="#pcap" x="18.8"/></g>
<g transform="rotate(259.75) translate(324.7,0)"><use href="#pcap" x="18.8"/></g>
<g transform="rotate(263.2) translate(325,0)"><use href="#pcap" x="18.8"/></g>
<g transform="rotate(266.65) translate(325.4,0)"><use href="#pcap" x="18.8"/></g>
<g transform="rotate(270.1) translate(325.8,0)"><use href="#pcap" x="18.8"/></g>
<g transform="rotate(273.55) translate(326.2,0)"><use href="#pcap" x="18.8"/><use href="#capd" x="28.2"/></g>
<g transform="rotate(277) translate(326.6,0)"><use href="#pcap" x="18.8"/><use href="#capd" x="28.2"/></g>
<g transform="rotate(280.45) translate(326.9,0)"><use href="#acme" x="9.4"/><use href="#pcap" x="18.8"/><use href="#capd" x="28.2"/></g>
<use href="#pvl" transform="rotate(162.6) translate(314.4,0)"/>
<use href="#pvl" transform="rotate(149) translate(314.9,0)"/>
<use href="#pvl" transform="rotate(142.5) translate(315.2,0)"/>
<use href="#pvl" transform="rotate(139.8) translate(314.3,0)"/>
<use href="#pvl" transform="rotate(136.4) translate(314.8,0)"/>
<use href="#pvl" transform="rotate(107.7) translate(325.4,0)"/>
<use href="#pvl" transform="rotate(104) translate(326.7,0)"/>
<use href="#pvl" transform="rotate(100.4) translate(326.4,0)"/>
<use href="#pvl" transform="rotate(87) translate(322.4,0)"/>
<use href="#pvl" transform="rotate(83.2) translate(321.3,0)"/>
<use href="#pvl" transform="rotate(79.6) translate(322.3,0)"/>
<use href="#pvl" transform="rotate(3.3) translate(327.6,0)"/>
<use href="#pvl" transform="rotate(10.4) translate(327.4,0)"/>
</g>
</g>

<g id="legend">
<use href="#pvl" transform="translate(277,232) scale(1.25)"/><text class="lg" x="290" y="236">PVL</text>
<use href="#acme" transform="translate(276,251) scale(1.25)"/><text class="lg" x="290" y="255">ACME</text>
<use href="#pcap" transform="translate(277,269) scale(1.2)"/><text class="lg" x="290" y="273">Pcap T &gt; C</text>
<use href="#capd" transform="translate(277,288) scale(1.2)"/><text class="lg" x="290" y="292">capD insertion</text>
<use href="#cape" transform="translate(277,307) scale(1.25)"/><text class="lg" x="290" y="311">capE G &gt; T</text>
<use href="#capg" transform="translate(277,326) scale(1.2)"/><text class="lg" x="290" y="330">capG T &gt; C</text>
</g>
<g id="scaleA">
<line x1="367" y1="696" x2="392" y2="696" stroke="#000" stroke-width="2"/>
<text x="379.5" y="712" text-anchor="middle" font-family="DejaVu Sans, sans-serif" font-size="11" fill="#111">0.0030</text>
</g>

<g id="panelB">
<rect x="178" y="741" width="272" height="399" fill="#ff8000" stroke="#d86a00" stroke-width=".8"/>
<g id="connectorsB">
<g id="dotsB">
<line class="bdr" x1="405" y1="747" x2="450" y2="747"/>
<line class="bdr" x1="402" y1="758.1" x2="450" y2="758.1"/>
<line class="bdr" x1="401" y1="769.2" x2="450" y2="769.2"/>
<line class="bdr" x1="410" y1="780.2" x2="450" y2="780.2"/>
<line class="bdr" x1="405" y1="791.3" x2="450" y2="791.3"/>
<line class="bdr" x1="402" y1="802.4" x2="450" y2="802.4"/>
<line class="bdr" x1="392" y1="813.5" x2="450" y2="813.5"/>
<line class="bdr" x1="395" y1="824.6" x2="450" y2="824.6"/>
<line class="bdr" x1="397" y1="835.6" x2="450" y2="835.6"/>
<line class="bdr" x1="410" y1="846.7" x2="450" y2="846.7"/>
<line class="bdr" x1="397" y1="857.8" x2="450" y2="857.8"/>
<line class="bdr" x1="385" y1="868.9" x2="450" y2="868.9"/>
<line class="bdr" x1="388" y1="880" x2="450" y2="880"/>
<line class="bdr" x1="385" y1="891" x2="450" y2="891"/>
<line class="bdk" x1="392" y1="902.1" x2="450" y2="902.1"/>
<line class="bdk" x1="396" y1="913.2" x2="450" y2="913.2"/>
<line class="bdk" x1="396" y1="924.3" x2="450" y2="924.3"/>
<line class="bdk" x1="402" y1="935.4" x2="450" y2="935.4"/>
<line class="bdk" x1="386" y1="946.4" x2="450" y2="946.4"/>
<line class="bdk" x1="412" y1="957.5" x2="450" y2="957.5"/>
<line class="bdk" x1="412" y1="968.6" x2="450" y2="968.6"/>
<line class="bdk" x1="411" y1="979.7" x2="450" y2="979.7"/>
<line class="bdk" x1="411" y1="990.8" x2="450" y2="990.8"/>
<line class="bdk" x1="408" y1="1001.8" x2="450" y2="1001.8"/>
<line class="bdk" x1="396" y1="1012.9" x2="450" y2="1012.9"/>
<line class="bdk" x1="395" y1="1024" x2="450" y2="1024"/>
<line class="bdk" x1="419" y1="1035.1" x2="450" y2="1035.1"/>
<line class="bdk" x1="398" y1="1046.2" x2="450" y2="1046.2"/>
<line class="bdk" x1="398" y1="1057.2" x2="450" y2="1057.2"/>
<line class="bdk" x1="398" y1="1068.3" x2="450" y2="1068.3"/>
<line class="bdk" x1="372" y1="1079.4" x2="450" y2="1079.4"/>
<line class="bdk" x1="386" y1="1090.5" x2="450" y2="1090.5"/>
<line class="bdk" x1="387" y1="1101.6" x2="450" y2="1101.6"/>
<line class="bdk" x1="388" y1="1123.7" x2="450" y2="1123.7"/>
<line class="bdk" x1="362" y1="1134.8" x2="450" y2="1134.8"/>
<line x1="270" y1="1146" x2="450" y2="1146" stroke="#777" stroke-width="1" stroke-dasharray="1.5 1.5"/>
</g>
<path class="bt" d="M87 1080V1146M83 1113H87M87 1080H267M87 1146H270M267 1033V1129M267 1033H283M267 1129H345M345 1124V1135M345 1124H388M345 1135H362M283 976V1092M283 976H303M283 1092H305M305 1079V1104M305 1079H372M305 1104H347M347 1096V1113M347 1096H380M347 1113H449M380 1090.5V1101.6M380 1090.5H386M380 1101.6H387M303 915V1035M303 915H315M303 1035H311M311 1000V1068M311 1000H339M311 1068.3H398M339 957V1045M339 957H373M339 1045H383M373 946.4V979.7M373 946.4H386M373 963H393M373 979.7H411M393 957.5V968.6M393 957.5H412M393 968.6H412M383 996V1057.2M383 996H392M392 990.8V1001.8M392 990.8H411M392 1001.8H408M383 1018H387M387 1012.9V1024M387 1012.9H396M387 1024H395M383 1035.1H419M383 1046.2H398M383 1057.2H398M315 898V935.4M315 898H333M315 935.4H402M333 878V918M333 878H343M333 918H393M393 913.2V924.3M393 913.2H396M393 924.3H396M343 855V902.1M343 855H377M343 902.1H392M377 790V891M377 790H383M377 852H393M393 846.7V857.8M393 846.7H410M393 857.8H397M377 868.9H385M377 880H388M377 891H385M383 752V835.6M383 752H400M400 747V758.1M400 747H405M400 758.1H402M383 769.2H401M383 780.2H410M383 791.3H405M383 802.4H402M383 813.5H392M383 824.6H395M383 835.6H397"/>
<path d="M129 1087L137 1074M134 1088L142 1075M123 1152L131 1139M128 1153L136 1140" stroke="#000" stroke-width="2" fill="none"/>
</g>
<g id="labelsB">
<g id="b0"><text class="lb r2" x="456" y="750.2">119694</text></g>
<g id="b1"><text class="lb r2" x="456" y="761.3">119695</text></g>
<g id="b2"><text class="lb r2" x="456" y="772.4">119692</text></g>
<g id="b3"><text class="lb r2" x="456" y="783.4">ERX063886</text></g>
<g id="b4"><text class="lb r2" x="456" y="794.5">ISMMS1</text></g>
<g id="b5"><text class="lb r2" x="456" y="805.6">SR2609</text></g>
<g id="b6"><text class="lb r2" x="456" y="816.7">FPR3757</text></g>
<g id="b7"><text class="lb r2" x="456" y="827.8">119693</text></g>
<g id="b8"><text class="lb r2" x="456" y="838.8">SR1129</text></g>
<g id="b9"><text class="lb r2" x="456" y="849.9">119690</text></g>
<g id="b10"><text class="lb r2" x="456" y="861">119691</text></g>
<g id="b11"><text class="lb r2" x="456" y="872.1">UA-S391</text></g>
<g id="b12"><text class="lb r2" x="456" y="883.2">CA105</text></g>
<g id="b13"><text class="lb r2" x="456" y="894.2">TCH1516</text></g>
<g id="b14"><text class="lb g" x="456" y="905.3">SRX148227</text></g>
<g id="b15"><text class="lb g" x="456" y="916.4">SRX036757</text></g>
<g id="b16"><text class="lb g" x="456" y="927.5">SRX036932</text></g>
<g id="b17"><text class="lb g" x="456" y="938.6">ERX063819</text></g>
<g id="b18"><text class="lb b" x="456" y="949.6">2395 USA500</text></g>
<g id="b19"><text class="lb g" x="456" y="960.7">SRX085180</text></g>
<g id="b20"><text class="lb g" x="456" y="971.8">SRX146554</text></g>
<g id="b21"><text class="lb b" x="456" y="982.9">109</text></g>
<g id="b22"><text class="lb b" x="456" y="994">GA231</text></g>
<g id="b23"><text class="lb b" x="456" y="1005">GA27</text></g>
<g id="b24"><text class="lb b" x="456" y="1016.1">GA15</text></g>
<g id="b25"><text class="lb g" x="456" y="1027.2">EUH_13</text></g>
<g id="b26"><text class="lb b" x="456" y="1038.3">126</text></g>
<g id="b27"><text class="lb b" x="456" y="1049.4">GA51254</text></g>
<g id="b28"><text class="lb b" x="456" y="1060.4">EUH_25</text></g>
<g id="b29"><text class="lb g" x="456" y="1071.5">M1</text></g>
<g id="b30"><text class="lb g" x="456" y="1082.6">Newman</text></g>
<g id="b31"><text class="lb g" x="456" y="1093.7">NRS 100</text></g>
<g id="b32"><text class="lb g" x="456" y="1104.8">COL</text></g>
<g id="b33"><text class="lb g" x="456" y="1115.8">PSP 1996</text></g>
<g id="b34"><text class="lb g" x="456" y="1126.9">VC40</text></g>
<g id="b35"><text class="lb g" x="456" y="1138">NCTC 8325</text></g>
<g id="b36"><text class="lb g" x="456" y="1149.1">GA50245</text></g>
</g>
<g id="markersB">
<g transform="translate(0,747)"><use href="#bpvl" x="527"/><use href="#bacme" x="535"/><use href="#bpcap" x="543"/><use href="#bcapd" x="551"/><use href="#bcape" x="559"/><use href="#bcapg" x="567"/></g>
<g transform="translate(0,758.1)"><use href="#bpvl" x="527"/><use href="#bacme" x="535"/><use href="#bpcap" x="543"/><use href="#bcapd" x="551"/><use href="#bcape" x="559"/><use href="#bcapg" x="567"/></g>
<g transform="translate(0,769.2)"><use href="#bpvl" x="527"/><use href="#bacme" x="535"/><use href="#bpcap" x="543"/><use href="#bcapd" x="551"/><use href="#bcape" x="559"/><use href="#bcapg" x="567"/></g>
<g transform="translate(0,780.2)"><use href="#bpvl" x="527"/><use href="#bacme" x="535"/><use href="#bpcap" x="543"/><use href="#bcape" x="559"/><use href="#bcapg" x="567"/></g>
<g transform="translate(0,791.3)"><use href="#bpvl" x="527"/><use href="#bacme" x="535"/><use href="#bpcap" x="543"/><use href="#bcapd" x="551"/><use href="#bcape" x="559"/><use href="#bcapg" x="567"/></g>
<g transform="translate(0,802.4)"><use href="#bpvl" x="527"/><use href="#bacme" x="535"/><use href="#bpcap" x="543"/><use href="#bcapd" x="551"/><use href="#bcape" x="559"/><use href="#bcapg" x="567"/></g>
<g transform="translate(0,813.5)"><use href="#bpvl" x="527"/><use href="#bacme" x="535"/><use href="#bpcap" x="543"/><use href="#bcapd" x="551"/><use href="#bcape" x="559"/><use href="#bcapg" x="567"/></g>
<g transform="translate(0,824.6)"><use href="#bpvl" x="527"/><use href="#bacme" x="535"/><use href="#bpcap" x="543"/><use href="#bcapd" x="551"/><use href="#bcape" x="559"/><use href="#bcapg" x="567"/></g>
<g transform="translate(0,835.6)"><use href="#bpvl" x="527"/><use href="#bacme" x="535"/><use href="#bpcap" x="543"/><use href="#bcapd" x="551"/><use href="#bcape" x="559"/><use href="#bcapg" x="567"/></g>
<g transform="translate(0,846.7)"><use href="#bpvl" x="527"/><use href="#bacme" x="535"/><use href="#bpcap" x="543"/><use href="#bcapd" x="551"/><use href="#bcape" x="559"/><use href="#bcapg" x="567"/></g>
<g transform="translate(0,857.8)"><use href="#bpvl" x="527"/><use href="#bacme" x="535"/><use href="#bpcap" x="543"/><use href="#bcapd" x="551"/><use href="#bcape" x="559"/><use href="#bcapg" x="567"/></g>
<g transform="translate(0,868.9)"><use href="#bpvl" x="527"/><use href="#bacme" x="535"/><use href="#bpcap" x="543"/><use href="#bcapd" x="551"/><use href="#bcape" x="559"/><use href="#bcapg" x="567"/></g>
<g transform="translate(0,880)"><use href="#bpvl" x="527"/><use href="#bacme" x="535"/><use href="#bpcap" x="543"/><use href="#bcapd" x="551"/><use href="#bcape" x="559"/><use href="#bcapg" x="567"/></g>
<g transform="translate(0,891)"><use href="#bpvl" x="527"/><use href="#bacme" x="535"/><use href="#bpcap" x="543"/><use href="#bcapd" x="551"/><use href="#bcape" x="559"/><use href="#bcapg" x="567"/></g>
<g transform="translate(0,902.1)"><use href="#bpvl" x="527"/><use href="#bpcap" x="543"/><use href="#bcapg" x="567"/></g>
<g transform="translate(0,913.2)"><use href="#bpvl" x="527"/><use href="#bpcap" x="543"/><use href="#bcapd" x="551"/><use href="#bcapg" x="567"/></g>
<g transform="translate(0,924.3)"><use href="#bpvl" x="527"/><use href="#bpcap" x="543"/><use href="#bcapd" x="551"/><use href="#bcapg" x="567"/></g>
<g transform="translate(0,935.4)"><use href="#bpcap" x="543"/><use href="#bcapd" x="551"/><use href="#bcapg" x="567"/></g>
<g transform="translate(0,946.4)"><use href="#bpcap" x="543"/><use href="#bcapd" x="551"/></g>
<g transform="translate(0,957.5)"><use href="#bpcap" x="543"/><use href="#bcapd" x="551"/></g>
<g transform="translate(0,968.6)"><use href="#bpcap" x="543"/><use href="#bcapd" x="551"/></g>
<g transform="translate(0,979.7)"><use href="#bpcap" x="543"/><use href="#bcapd" x="551"/></g>
<g transform="translate(0,990.8)"><use href="#bpcap" x="543"/></g>
<g transform="translate(0,1001.8)"><use href="#bpcap" x="543"/></g>
<g transform="translate(0,1012.9)"><use href="#bpcap" x="543"/></g>
<g transform="translate(0,1024)"><use href="#bpcap" x="543"/></g>
<g transform="translate(0,1035.1)"><use href="#bpcap" x="543"/></g>
<g transform="translate(0,1046.2)"><use href="#bpcap" x="543"/><use href="#bcapd" x="551"/></g>
<g transform="translate(0,1057.2)"><use href="#bpcap" x="543"/><use href="#bcapd" x="551"/></g>
<g transform="translate(0,1068.3)"><use href="#bacme" x="535"/><use href="#bpcap" x="543"/><use href="#bcapd" x="551"/></g>
</g>
<g id="groupsB">
<rect x="580" y="743" width="5" height="153" fill="#6e6e6e"/>
<rect x="580" y="943" width="5" height="118" fill="#6e6e6e"/>
<text transform="translate(597,820) rotate(-90)" text-anchor="middle" font-family="Liberation Serif, serif" font-size="13" fill="#333" style="dominant-baseline:central">USA300</text>
<text transform="translate(597,1002) rotate(-90)" text-anchor="middle" font-family="Liberation Serif, serif" font-size="13" fill="#333" style="dominant-baseline:central">USA500</text>
</g>
<g id="scaleB">
<line x1="245" y1="1167" x2="290" y2="1167" stroke="#000" stroke-width="2"/>
<text x="267.5" y="1182" text-anchor="middle" font-family="DejaVu Sans, sans-serif" font-size="10" fill="#111">5.0E-5</text>
</g>
</g>
</svg>
